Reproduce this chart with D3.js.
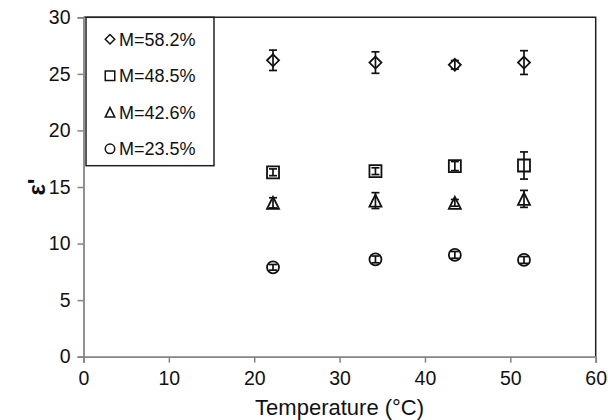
<!DOCTYPE html>
<html>
<head>
<meta charset="utf-8">
<script src="https://cdn.jsdelivr.net/npm/d3@7"></script>
<style>
  body { margin: 0; background: #fff; }
  text { font-family: "Liberation Sans", Arial, sans-serif; fill: #111; }
</style>
</head>
<body>
<script>
// data
var temps = [22.2, 34.2, 43.5, 51.6];
var seriesNames = ["M=58.2%", "M=48.5%", "M=42.6%", "M=23.5%"];
var seriesShapes = ["diamond", "square", "triangle", "circle"];
var eps582 = [26.2, 26.0, 25.8, 26.0];
var err582 = [0.9, 0.95, 0.38, 1.05];
var eps485 = [16.3, 16.4, 16.85, 16.9];
var err485 = [0.3, 0.3, 0.4, 1.2];
var eps426 = [13.6, 13.8, 13.6, 13.95];
var err426 = [0.45, 0.7, 0.3, 0.75];
var eps235 = [7.9, 8.6, 9.0, 8.55];
var err235 = [0.25, 0.3, 0.3, 0.3];
var xTicks = [0, 10, 20, 30, 40, 50, 60];
var yTicks = [0, 5, 10, 15, 20, 25, 30];

var allVals = [eps582, eps485, eps426, eps235];
var allErrs = [err582, err485, err426, err235];

var margin = {top: 17.3, right: 12.3, bottom: 63.3, left: 83.5},
    width = 608 - margin.left - margin.right,
    height = 420 - margin.top - margin.bottom;

var x = d3.scaleLinear().domain([0, 60]).range([0, width]);
var y = d3.scaleLinear().domain([0, 30]).range([height, 0]);

var svg = d3.select("body").append("svg")
    .attr("width", 608)
    .attr("height", 420)
  .append("g")
    .attr("transform", "translate(" + margin.left + "," + margin.top + ")");

// top and right frame lines (dark)
svg.append("path")
    .attr("d", "M0,0H" + width + "V" + height)
    .attr("fill", "none")
    .attr("stroke", "#222")
    .attr("stroke-width", 1.5);

// axes
var xAxis = svg.append("g")
    .attr("transform", "translate(0," + height + ")")
    .call(d3.axisBottom(x).tickValues(xTicks).tickSize(6).tickPadding(8));
var yAxis = svg.append("g")
    .call(d3.axisLeft(y).tickValues(yTicks).tickSize(6).tickPadding(7));

[xAxis, yAxis].forEach(function(g) {
  g.select(".domain").attr("stroke", "#858585").attr("stroke-width", 1.8);
  g.selectAll(".tick line").attr("stroke", "#858585").attr("stroke-width", 1.5);
  g.selectAll(".tick text").attr("font-size", 19.5).attr("fill", "#111")
    .style("font-family", "'Liberation Sans', Arial, sans-serif");
});

// marker shapes
function shapePath(type, s) {
  var h = s / 2;
  if (type == "diamond") return "M0," + (-h) + "L" + h + ",0L0," + h + "L" + (-h) + ",0Z";
  if (type == "square") return "M" + (-h) + "," + (-h) + "H" + h + "V" + h + "H" + (-h) + "Z";
  if (type == "triangle") return "M0," + (-h) + "L" + h + "," + h + "H" + (-h) + "Z";
  return "M" + h + ",0A" + h + "," + h + " 0 1,1 " + (-h) + ",0A" + h + "," + h + " 0 1,1 " + h + ",0Z";
}

// points and error bars
allVals.forEach(function(vals, si) {
  var pts = temps.map(function(t, i) { return {t: t, v: vals[i], e: allErrs[si][i]}; });
  var g = svg.append("g");

  g.selectAll(".pt")
    .data(pts)
    .enter().append("path")
    .attr("class", "pt")
    .attr("transform", function(d) { return "translate(" + x(d.t) + "," + y(d.v) + ")"; })
    .attr("d", shapePath(seriesShapes[si], 12))
    .attr("fill", "#fff")
    .attr("stroke", "#111")
    .attr("stroke-width", 1.8);

  var eb = g.selectAll(".err")
    .data(pts)
    .enter().append("g")
    .attr("class", "err")
    .attr("stroke", "#111")
    .attr("stroke-width", 1.7);
  eb.append("line")
    .attr("x1", function(d) { return x(d.t); })
    .attr("x2", function(d) { return x(d.t); })
    .attr("y1", function(d) { return y(d.v + d.e); })
    .attr("y2", function(d) { return y(d.v - d.e); });
  eb.append("line")
    .attr("x1", function(d) { return x(d.t) - 4; })
    .attr("x2", function(d) { return x(d.t) + 4; })
    .attr("y1", function(d) { return y(d.v + d.e); })
    .attr("y2", function(d) { return y(d.v + d.e); });
  eb.append("line")
    .attr("x1", function(d) { return x(d.t) - 4; })
    .attr("x2", function(d) { return x(d.t) + 4; })
    .attr("y1", function(d) { return y(d.v - d.e); })
    .attr("y2", function(d) { return y(d.v - d.e); });
});

// legend
var legend = svg.append("g").attr("transform", "translate(2.5,0)");
legend.append("rect")
    .attr("width", 128)
    .attr("height", 148.4)
    .attr("fill", "#fff")
    .attr("stroke", "#222")
    .attr("stroke-width", 1.5);
seriesNames.forEach(function(name, i) {
  var row = legend.append("g")
      .attr("transform", "translate(24," + (22 + i * 36.5) + ")");
  row.append("path")
      .attr("d", shapePath(seriesShapes[i], 9.5))
      .attr("fill", "#fff")
      .attr("stroke", "#111")
      .attr("stroke-width", 1.5);
  row.append("text")
      .attr("x", 9)
      .attr("dy", "0.35em")
      .attr("font-size", 18)
      .text(name);
});

// axis titles
svg.append("text")
    .attr("x", width / 2)
    .attr("y", height + 58)
    .attr("text-anchor", "middle")
    .attr("font-size", 22)
    .text("Temperature (°C)");

svg.append("text")
    .attr("transform", "translate(-39," + (height / 2) + ") rotate(-90)")
    .attr("text-anchor", "middle")
    .attr("font-size", 24)
    .attr("font-weight", "bold")
    .text("ε'");
</script>
</body>
</html>
